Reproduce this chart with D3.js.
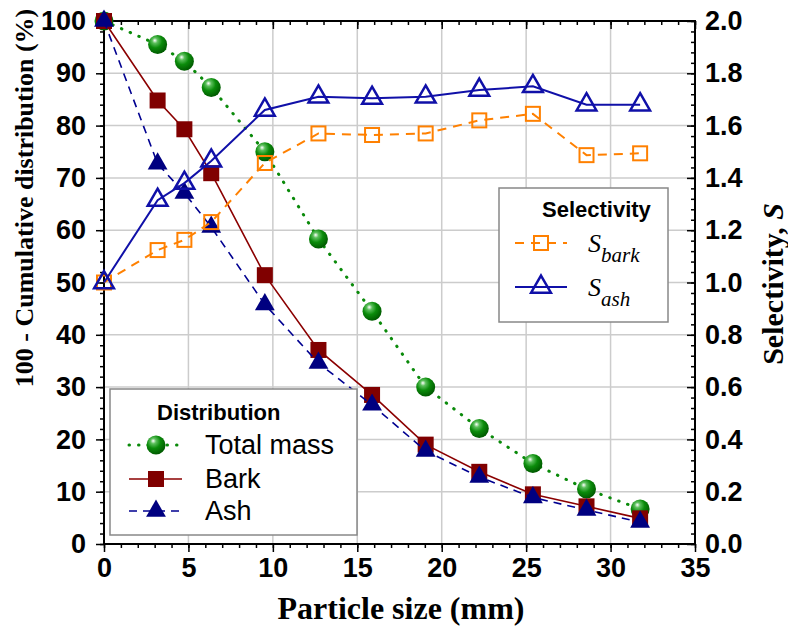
<!DOCTYPE html>
<html>
<head>
<meta charset="utf-8">
<script src="https://cdn.jsdelivr.net/npm/d3@7"></script>
<style>
	body { margin: 0; background: #fff; }
	.tick text { font-family: "Liberation Sans", Arial, sans-serif; font-weight: bold; font-size: 27px; fill: #000; }
	.tick line { stroke: #000; stroke-width: 1.5; }
	.domain { display: none; }
</style>
</head>
<body>
<div class="viz"></div>
<script>
// particle sizes (mm), imperial sieves
let sizes = [0, 3.175, 4.76, 6.35, 9.525, 12.7, 15.875, 19.05, 22.225, 25.4, 28.575, 31.75];
// 100 - cumulative distribution (%)
let totalMass = [100, 95.5, 92.3, 87.3, 75.0, 58.3, 44.5, 30.0, 22.1, 15.4, 10.5, 6.7];
let bark = [100, 84.8, 79.3, 70.9, 51.4, 37.1, 28.5, 19.0, 13.8, 9.5, 7.2, 4.9];
let ash = [100, 72.7, 67.1, 60.6, 45.8, 34.6, 26.6, 17.8, 12.8, 8.9, 6.5, 4.2];
// selectivity
let sBark = [1.0, 1.124, 1.163, 1.231, 1.457, 1.57, 1.564, 1.57, 1.62, 1.645, 1.487, 1.494];
let sAsh = [1.0, 1.315, 1.38, 1.465, 1.66, 1.71, 1.705, 1.71, 1.736, 1.75, 1.68, 1.68];

let xTicks = d3.range(0, 36, 5), xMinor = d3.range(0, 36, 1);
let yTicks = d3.range(0, 101, 10), yMinor = d3.range(0, 101, 2);
let sTicks = d3.range(0, 11).map(function(i) { return i * 0.2; });
let sMinor = d3.range(0, 51).map(function(i) { return i * 0.04; });

let width = 788, height = 629;
let margin = {top: 21, right: 93, bottom: 85, left: 104};
let plotW = width - margin.left - margin.right, plotH = height - margin.top - margin.bottom;

let svg = d3.select('.viz').append('svg')
	.attr('width', width)
	.attr('height', height);

let defs = svg.append('defs');
let grad = defs.append('radialGradient')
	.attr('id', 'ball')
	.attr('cx', '40%').attr('cy', '35%').attr('r', '65%')
	.attr('fx', '35%').attr('fy', '28%');
grad.append('stop').attr('offset', '0%').attr('stop-color', '#ffffff');
grad.append('stop').attr('offset', '22%').attr('stop-color', '#5cbf5c');
grad.append('stop').attr('offset', '55%').attr('stop-color', '#0b8c0b');
grad.append('stop').attr('offset', '100%').attr('stop-color', '#005a00');

let x = d3.scaleLinear().domain([0, 35]).range([0, plotW]);
let y = d3.scaleLinear().domain([0, 100]).range([plotH, 0]);
let yS = d3.scaleLinear().domain([0, 2]).range([plotH, 0]);

let g = svg.append('g')
	.attr('transform', 'translate(' + margin.left + ',' + margin.top + ')');

// grid
g.append('g').selectAll('line')
	.data(xTicks.filter(function(d) { return d > 0 && d < 35; }))
	.enter().append('line')
	.attr('x1', x).attr('x2', x)
	.attr('y1', 0).attr('y2', plotH)
	.attr('stroke', '#cccccc').attr('stroke-width', 1.5);
g.append('g').selectAll('line')
	.data(yTicks.filter(function(d) { return d > 0 && d < 100; }))
	.enter().append('line')
	.attr('y1', y).attr('y2', y)
	.attr('x1', 0).attr('x2', plotW)
	.attr('stroke', '#cccccc').attr('stroke-width', 1.5);

// axes
g.append('g').attr('transform', 'translate(0,' + plotH + ')')
	.call(d3.axisBottom(x).tickValues(xMinor).tickSize(4).tickFormat(''));
g.append('g').attr('transform', 'translate(0,' + plotH + ')')
	.call(d3.axisBottom(x).tickValues(xTicks).tickSize(8).tickPadding(6));
g.append('g')
	.call(d3.axisTop(x).tickValues(xMinor).tickSize(-4).tickFormat(''));
g.append('g')
	.call(d3.axisTop(x).tickValues(xTicks).tickSize(-8).tickFormat(''));
g.append('g')
	.call(d3.axisLeft(y).tickValues(yMinor).tickSize(4).tickFormat(''));
g.append('g')
	.call(d3.axisLeft(y).tickValues(yTicks).tickSize(8).tickPadding(10));
g.append('g').attr('transform', 'translate(' + plotW + ',0)')
	.call(d3.axisRight(yS).tickValues(sMinor).tickSize(-4).tickFormat(''));
g.append('g').attr('transform', 'translate(' + plotW + ',0)')
	.call(d3.axisRight(yS).tickValues(sTicks).tickSize(-8).tickPadding(10).tickFormat(d3.format('.1f')));

g.append('rect')
	.attr('width', plotW).attr('height', plotH)
	.attr('fill', 'none').attr('stroke', '#000').attr('stroke-width', 2);

// series
function line(scale, vals) {
	return d3.line()
		.x(function(d, i) { return x(sizes[i]); })
		.y(function(d) { return scale(d); })(vals);
}
let tri = d3.symbol().type(d3.symbolTriangle);

g.append('path').attr('d', line(y, totalMass))
	.attr('fill', 'none').attr('stroke', '#0a8a0a').attr('stroke-width', 3)
	.attr('stroke-linecap', 'round').attr('stroke-dasharray', '0.5,9');
g.append('g').selectAll('circle').data(totalMass).enter().append('circle')
	.attr('cx', function(d, i) { return x(sizes[i]); })
	.attr('cy', function(d) { return y(d); })
	.attr('r', 9.5)
	.attr('fill', 'url(#ball)');

g.append('path').attr('d', line(y, bark))
	.attr('fill', 'none').attr('stroke', '#8b0000').attr('stroke-width', 1.6);
g.append('g').selectAll('rect').data(bark).enter().append('rect')
	.attr('x', function(d, i) { return x(sizes[i]) - 8; })
	.attr('y', function(d) { return y(d) - 8; })
	.attr('width', 16).attr('height', 16)
	.attr('fill', '#800000');

g.append('path').attr('d', line(y, ash))
	.attr('fill', 'none').attr('stroke', '#000090').attr('stroke-width', 1.6)
	.attr('stroke-dasharray', '8,6');
g.append('g').selectAll('path').data(ash).enter().append('path')
	.attr('d', tri.size(170))
	.attr('transform', function(d, i) { return 'translate(' + x(sizes[i]) + ',' + y(d) + ')'; })
	.attr('fill', '#000080');

g.append('path').attr('d', line(yS, sBark))
	.attr('fill', 'none').attr('stroke', '#ff8000').attr('stroke-width', 2)
	.attr('stroke-dasharray', '9,7');
g.append('g').selectAll('rect').data(sBark).enter().append('rect')
	.attr('x', function(d, i) { return x(sizes[i]) - 7; })
	.attr('y', function(d) { return yS(d) - 7; })
	.attr('width', 14).attr('height', 14)
	.attr('fill', 'none').attr('stroke', '#ff8000').attr('stroke-width', 2);

g.append('path').attr('d', line(yS, sAsh))
	.attr('fill', 'none').attr('stroke', '#1010a8').attr('stroke-width', 2);
g.append('g').selectAll('path').data(sAsh).enter().append('path')
	.attr('d', tri.size(170))
	.attr('transform', function(d, i) { return 'translate(' + x(sizes[i]) + ',' + yS(d) + ')'; })
	.attr('fill', 'none').attr('stroke', '#1010a8').attr('stroke-width', 2.5);

// axis titles
let serif = '"Liberation Serif", "Times New Roman", serif';
svg.append('text')
	.attr('x', 401).attr('y', 619)
	.attr('text-anchor', 'middle')
	.style('font-family', serif).style('font-weight', 'bold').style('font-size', '32px')
	.text('Particle size (mm)');
svg.append('text')
	.attr('transform', 'translate(33,198)rotate(-90)')
	.attr('text-anchor', 'middle')
	.style('font-family', serif).style('font-weight', 'bold').style('font-size', '26px')
	.text('100 - Cumulative distribution (%)');
let rt = svg.append('text')
	.attr('transform', 'translate(783,284)rotate(-90)')
	.attr('text-anchor', 'middle')
	.style('font-family', serif).style('font-weight', 'bold').style('font-size', '30px');
rt.append('tspan').text('Selectivity, ');
rt.append('tspan').style('font-style', 'italic').text('S');

// legends
let sans = '"Liberation Sans", Arial, sans-serif';
let leg1 = svg.append('g');
leg1.append('rect').attr('x', 110).attr('y', 389).attr('width', 247).attr('height', 146)
	.attr('fill', '#fff').attr('stroke', '#888').attr('stroke-width', 1.5);
leg1.append('text').attr('x', 157).attr('y', 420)
	.style('font-family', sans).style('font-weight', 'bold').style('font-size', '22px')
	.text('Distribution');
let legItems = ['Total mass', 'Bark', 'Ash'];
let legY = [445, 479, 511];
leg1.append('line').attr('x1', 129).attr('x2', 182).attr('y1', legY[0]).attr('y2', legY[0])
	.attr('stroke', '#0a8a0a').attr('stroke-width', 3).attr('stroke-linecap', 'round').attr('stroke-dasharray', '0.5,9');
leg1.append('circle').attr('cx', 156).attr('cy', legY[0]).attr('r', 9.5).attr('fill', 'url(#ball)');
leg1.append('line').attr('x1', 129).attr('x2', 182).attr('y1', legY[1]).attr('y2', legY[1])
	.attr('stroke', '#8b0000').attr('stroke-width', 1.6);
leg1.append('rect').attr('x', 148).attr('y', legY[1] - 8).attr('width', 16).attr('height', 16).attr('fill', '#800000');
leg1.append('line').attr('x1', 129).attr('x2', 182).attr('y1', legY[2]).attr('y2', legY[2])
	.attr('stroke', '#000090').attr('stroke-width', 1.6).attr('stroke-dasharray', '8,6');
leg1.append('path').attr('d', tri.size(170)).attr('transform', 'translate(156,' + legY[2] + ')').attr('fill', '#000080');
leg1.selectAll('text.item').data(legItems).enter().append('text')
	.attr('class', 'item')
	.attr('x', 205).attr('y', function(d, i) { return legY[i] + 9; })
	.style('font-family', sans).style('font-size', '27px')
	.text(function(d) { return d; });

let leg2 = svg.append('g');
leg2.append('rect').attr('x', 499).attr('y', 188).attr('width', 169).attr('height', 134)
	.attr('fill', '#fff').attr('stroke', '#888').attr('stroke-width', 1.5);
leg2.append('text').attr('x', 542).attr('y', 217)
	.style('font-family', sans).style('font-weight', 'bold').style('font-size', '22px')
	.text('Selectivity');
leg2.append('line').attr('x1', 515).attr('x2', 567).attr('y1', 243).attr('y2', 243)
	.attr('stroke', '#ff8000').attr('stroke-width', 2).attr('stroke-dasharray', '9,7');
leg2.append('rect').attr('x', 534).attr('y', 236).attr('width', 14).attr('height', 14)
	.attr('fill', 'none').attr('stroke', '#ff8000').attr('stroke-width', 2);
leg2.append('line').attr('x1', 515).attr('x2', 567).attr('y1', 287).attr('y2', 287)
	.attr('stroke', '#1010a8').attr('stroke-width', 2);
leg2.append('path').attr('d', tri.size(170)).attr('transform', 'translate(541,287)')
	.attr('fill', 'none').attr('stroke', '#1010a8').attr('stroke-width', 2.5);
let subs = ['bark', 'ash'], subY = [252, 296];
subs.forEach(function(s, i) {
	let t = leg2.append('text').attr('x', 588).attr('y', subY[i])
		.style('font-family', serif).style('font-style', 'italic').style('font-size', '26px');
	t.append('tspan').text('S');
	t.append('tspan').attr('dy', 10).style('font-size', '21px').text(s);
});
</script>
</body>
</html>
